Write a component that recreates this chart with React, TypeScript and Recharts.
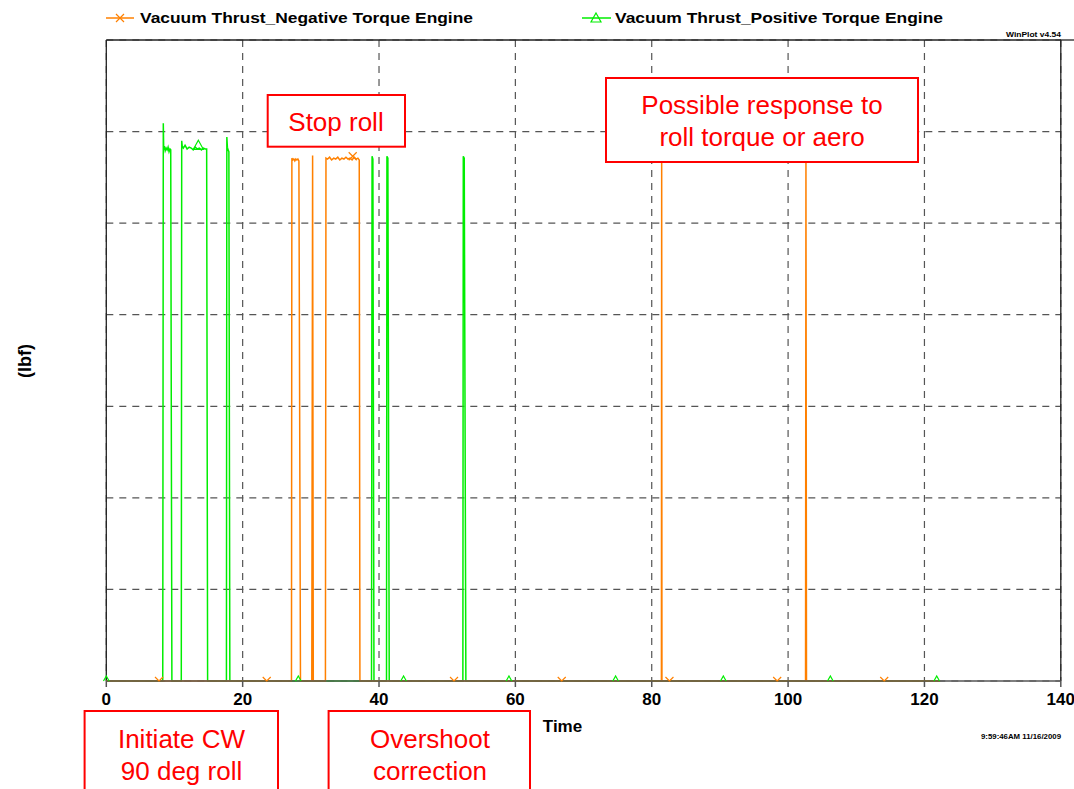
import React from 'react';
import { ComposedChart, Line, Scatter, XAxis, YAxis, CartesianGrid, ReferenceLine } from 'recharts';

const FONT = '"Liberation Sans", Arial, Helvetica, sans-serif';
const GREEN = '#00EE00';
const ORANGE = '#FF8000';
const RED = '#FF0000';

// Time ticks and y grid levels (the y axis carries no values)
const X_TICKS = [0, 20, 40, 60, 80, 100, 120, 140];
const Y_LEVELS = [0, 1, 2, 3, 4, 5, 6, 7];

// Vacuum Thrust_Positive Torque Engine (green)
const GREEN_T = [0, 8.28, 8.36, 8.42, 8.52, 8.64, 8.78, 8.92, 9.06, 9.2, 9.34, 9.45, 9.62,
  11.0, 11.06, 11.14, 11.3, 11.55, 11.85, 12.15, 12.45, 12.75, 13.05, 13.35, 13.65, 13.95, 14.25, 14.5, 14.72, 14.86,
  17.62, 17.68, 17.76, 17.86, 17.98, 18.12,
  38.9, 38.98, 39.1, 39.26,
  41.1, 41.16, 41.3, 41.5,
  52.3, 52.36, 52.5, 52.74,
  122.3];
const GREEN_V = [0, 0, 6.09, 5.80, 5.84, 5.79, 5.82, 5.80, 5.83, 5.78, 5.81, 5.80, 0,
  0, 5.90, 5.84, 5.82, 5.85, 5.81, 5.83, 5.82, 5.80, 5.83, 5.81, 5.82, 5.80, 5.82, 5.81, 5.81, 0,
  0, 5.94, 5.83, 5.80, 5.78, 0,
  0, 5.73, 5.70, 0,
  0, 5.73, 5.71, 0,
  0, 5.73, 5.71, 0,
  0];

// Vacuum Thrust_Negative Torque Engine (orange)
const ORANGE_T = [0, 27.16, 27.22, 27.35, 27.5, 27.65, 27.8, 27.95, 28.1, 28.25, 28.48,
  30.14, 30.26, 30.36,
  32.14, 32.22, 32.45, 32.75, 33.05, 33.35, 33.65, 33.95, 34.25, 34.55, 34.85, 35.15, 35.45, 35.75, 36.05, 36.35, 36.65, 36.9, 37.1, 37.2,
  81.42, 81.46, 81.5,
  102.56, 102.62, 102.7,
  122.3];
const ORANGE_V = [0, 0, 5.71, 5.69, 5.70, 5.68, 5.70, 5.69, 5.70, 5.68, 0,
  0, 5.74, 0,
  0, 5.71, 5.70, 5.72, 5.69, 5.71, 5.70, 5.72, 5.69, 5.71, 5.70, 5.72, 5.70, 5.71, 5.69, 5.72, 5.70, 5.71, 5.69, 0,
  0, 5.72, 0,
  0, 5.72, 0,
  0];

// Series markers
const GREEN_MARK_T = [0, 13.5, 28.16, 43.6, 59.06, 74.7, 90.5, 106.2, 121.8];
const GREEN_MARK_V = [0, 5.85, 0, 0, 0, 0, 0, 0, 0];
const ORANGE_MARK_T = [7.73, 23.53, 36.14, 51.0, 66.8, 82.6, 98.4, 114.1];
const ORANGE_MARK_V = [0, 0, 5.73, 0, 0, 0, 0, 0];

const LEGEND_NEG = 'Vacuum Thrust_Negative Torque Engine';
const LEGEND_POS = 'Vacuum Thrust_Positive Torque Engine';

const greenData = GREEN_T.map((t, i) => ({ t, v: GREEN_V[i] }));
const orangeData = ORANGE_T.map((t, i) => ({ t, v: ORANGE_V[i] }));
const greenMarks = GREEN_MARK_T.map((t, i) => ({ t, v: GREEN_MARK_V[i] }));
const orangeMarks = ORANGE_MARK_T.map((t, i) => ({ t, v: ORANGE_MARK_V[i] }));

const crossPath = (cx: number, cy: number, half: boolean) =>
  half
    ? `M${cx - 4},${cy - 4}L${cx},${cy}L${cx + 4},${cy - 4}`
    : `M${cx - 4},${cy - 4}L${cx + 4},${cy + 4}M${cx + 4},${cy - 4}L${cx - 4},${cy + 4}`;

const triPath = (cx: number, cy: number, half: boolean) =>
  half
    ? `M${cx - 2.8},${cy}L${cx},${cy - 5}L${cx + 2.8},${cy}`
    : `M${cx},${cy - 5}L${cx + 5},${cy + 4}L${cx - 5},${cy + 4}Z`;

const OrangeMark = (p: any) => (
  <path d={crossPath(p.cx, p.cy, p.payload.v === 0)} stroke={ORANGE} strokeWidth={1.2} fill="none" />
);
const GreenMark = (p: any) => (
  <path d={triPath(p.cx, p.cy, p.payload.v === 0)} stroke={GREEN} strokeWidth={1.2} fill="none" />
);

const Box = ({ x, y, w, h, lines, cx, baselines }: any) => (
  <g>
    <rect x={x} y={y} width={w} height={h} fill="#fff" stroke={RED} strokeWidth={2} />
    {lines.map((s: string, i: number) => (
      <text key={i} x={cx} y={baselines[i]} textAnchor="middle" fontSize={26} fill={RED} fontFamily={FONT}>{s}</text>
    ))}
  </g>
);

export default function App() {
  return (
    <div style={{ position: 'absolute', left: 0, top: 0, width: 1074, height: 789, background: '#fff', overflow: 'hidden' }}>
      <ComposedChart width={1074} height={789} margin={{ top: 40, right: 13.2, left: 106.3, bottom: 78 }}>
        <CartesianGrid stroke="#555" strokeDasharray="7 6" strokeWidth={1.2} />
        <XAxis
          type="number"
          dataKey="t"
          domain={[0, 140]}
          ticks={X_TICKS}
          interval={0}
          height={30}
          tickSize={6}
          tickMargin={6}
          axisLine={{ stroke: '#555', strokeWidth: 1.5 }}
          tickLine={{ stroke: '#555', strokeWidth: 1.5 }}
          tick={{ fontSize: 17, fontWeight: 700, fill: '#000', fontFamily: FONT }}
        />
        <YAxis
          type="number"
          dataKey="v"
          domain={[0, 7]}
          ticks={Y_LEVELS}
          interval={0}
          width={0}
          tickSize={6}
          axisLine={{ stroke: '#222', strokeWidth: 1 }}
          tickLine={{ stroke: '#222', strokeWidth: 1 }}
          tick={() => null}
        />
        <ReferenceLine x={0} stroke="#222" strokeWidth={1.3} ifOverflow="visible" />
        <ReferenceLine y={7} stroke="#222" strokeWidth={1.3} ifOverflow="visible" />
        <ReferenceLine x={140} stroke="#222" strokeWidth={1.3} ifOverflow="visible" />
        <Line data={greenData} dataKey="v" type="linear" stroke={GREEN} strokeWidth={1.5} dot={false} activeDot={false} isAnimationActive={false} />
        <Line data={orangeData} dataKey="v" type="linear" stroke={ORANGE} strokeWidth={1.5} dot={false} activeDot={false} isAnimationActive={false} />
        <Scatter data={greenMarks} dataKey="v" shape={GreenMark} isAnimationActive={false} />
        <Scatter data={orangeMarks} dataKey="v" shape={OrangeMark} isAnimationActive={false} />
      </ComposedChart>
      <svg width={1074} height={789} style={{ position: 'absolute', left: 0, top: 0, pointerEvents: 'none' }}>
        {/* legend */}
        <line x1={106} y1={18} x2={134} y2={18} stroke={ORANGE} strokeWidth={1.5} />
        <path d={crossPath(120, 18, false)} stroke={ORANGE} strokeWidth={1.2} fill="none" />
        <text x={140} y={23} fontSize={15} fontWeight={700} fontFamily={FONT} fill="#000" textLength={333} lengthAdjust="spacingAndGlyphs">{LEGEND_NEG}</text>
        <line x1={582} y1={18} x2={611} y2={18} stroke={GREEN} strokeWidth={1.5} />
        <path d={triPath(596, 18, false)} stroke={GREEN} strokeWidth={1.2} fill="none" />
        <text x={615} y={23} fontSize={15} fontWeight={700} fontFamily={FONT} fill="#000" textLength={328} lengthAdjust="spacingAndGlyphs">{LEGEND_POS}</text>
        <line x1={1060} y1={40} x2={1074} y2={40} stroke="#222" strokeWidth={1.3} />
        <text x={1006} y={37} fontSize={8} fontWeight={700} fontFamily={FONT} fill="#000" textLength={55} lengthAdjust="spacingAndGlyphs">WinPlot v4.54</text>
        {/* axis titles */}
        <text x={26} y={361} transform="rotate(-90 26 361)" textAnchor="middle" dominantBaseline="middle" fontSize={18} fontWeight={700} fontFamily={FONT} fill="#000">(lbf)</text>
        <text x={562.5} y={732} textAnchor="middle" fontSize={17} fontWeight={700} fontFamily={FONT} fill="#000">Time</text>
        <text x={981} y={739} fontSize={8} fontWeight={700} fontFamily={FONT} fill="#000" textLength={80} lengthAdjust="spacingAndGlyphs">9:59:46AM 11/16/2009</text>
        {/* annotations */}
        <Box x={267.7} y={95} w={137.3} h={51.7} cx={336} lines={['Stop roll']} baselines={[131]} />
        <Box x={606} y={78} w={312} h={84} cx={762} lines={['Possible response to', 'roll torque or aero']} baselines={[114, 146]} />
        <Box x={84.6} y={711} w={193.4} h={100} cx={181.5} lines={['Initiate CW', '90 deg roll']} baselines={[748, 780]} />
        <Box x={328.6} y={711} w={201.4} h={100} cx={430} lines={['Overshoot', 'correction']} baselines={[748, 780]} />
      </svg>
    </div>
  );
}
